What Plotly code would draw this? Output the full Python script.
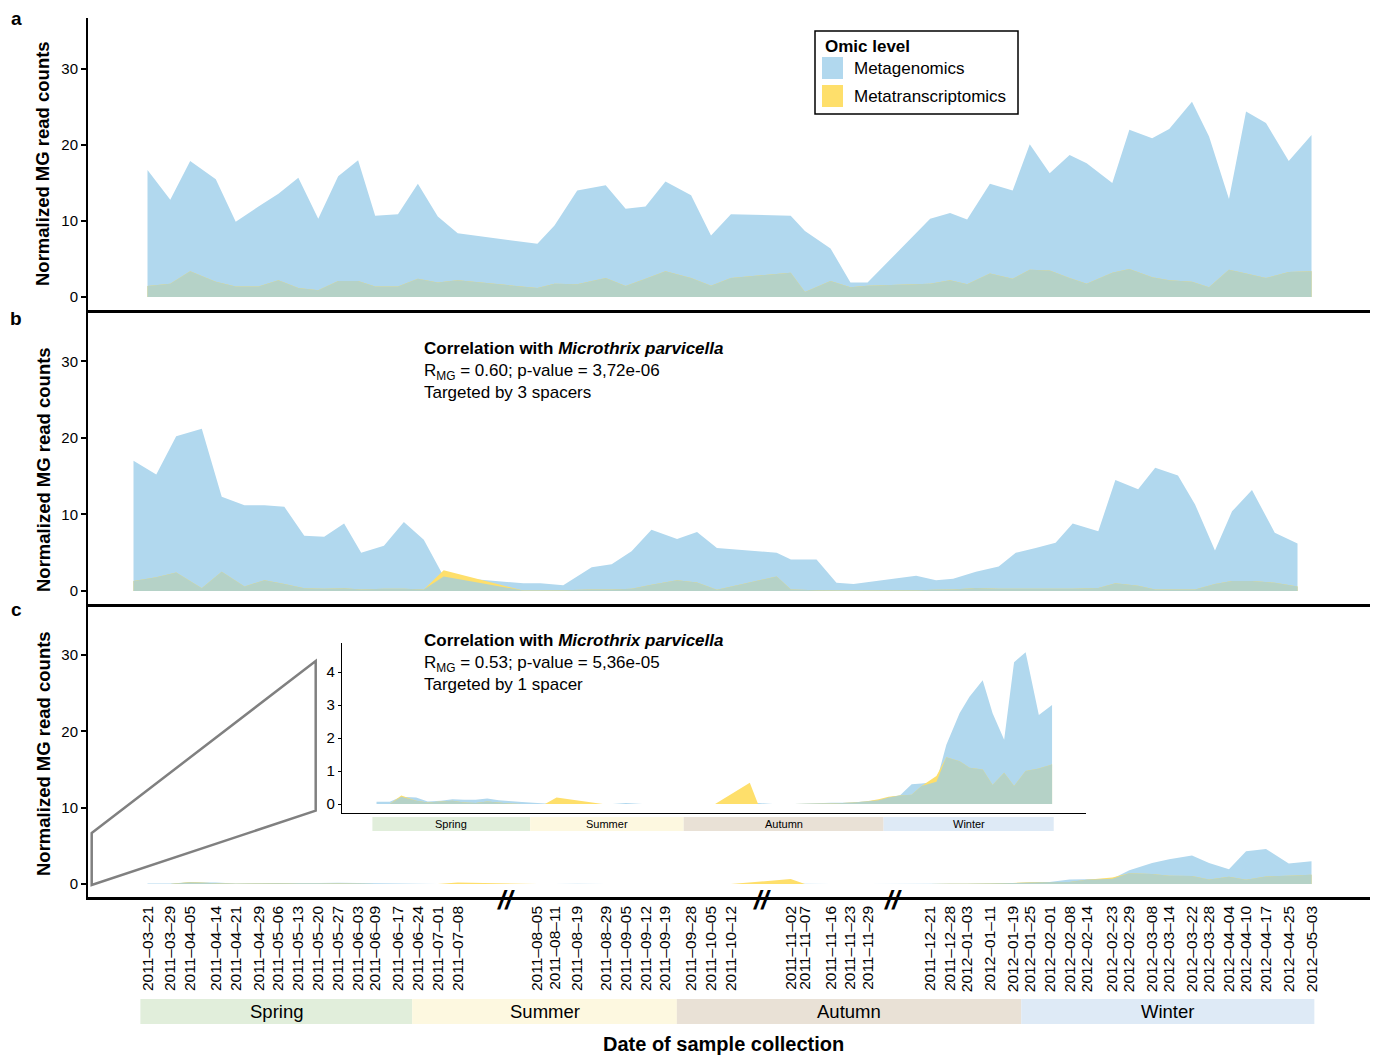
import numpy as np
import pandas as pd
import plotly.graph_objects as go

# ---------------- data ----------------
dates = [
    "2011-03-21", "2011-03-29", "2011-04-05", "2011-04-14", "2011-04-21", "2011-04-29",
    "2011-05-06", "2011-05-13", "2011-05-20", "2011-05-27", "2011-06-03", "2011-06-09",
    "2011-06-17", "2011-06-24", "2011-07-01", "2011-07-08",
    "2011-08-05", "2011-08-11", "2011-08-19", "2011-08-29", "2011-09-05", "2011-09-12",
    "2011-09-19", "2011-09-28", "2011-10-05", "2011-10-12",
    "2011-11-02", "2011-11-07", "2011-11-16", "2011-11-23", "2011-11-29",
    "2011-12-21", "2011-12-28", "2012-01-03", "2012-01-11", "2012-01-19", "2012-01-25",
    "2012-02-01", "2012-02-08", "2012-02-14", "2012-02-23", "2012-02-29", "2012-03-08",
    "2012-03-14", "2012-03-22", "2012-03-28", "2012-04-04", "2012-04-10", "2012-04-17",
    "2012-04-25", "2012-05-03",
]
tick_labels = [d.replace("-", "\u2013") for d in dates]

# panel a
a_mg = [16.7, 12.8, 17.9, 15.5, 9.9, 11.9, 13.6, 15.7, 10.3, 15.9, 18.0, 10.7, 10.9, 14.9, 10.6, 8.4,
        7.0, 9.4, 14.0, 14.7, 11.6, 11.9, 15.2, 13.4, 8.1, 10.9,
        10.7, 8.7, 6.4, 1.9, 1.9,
        10.3, 11.05, 10.2, 14.9, 14.0, 20.1, 16.3, 18.7, 17.6, 15.0, 22.0, 20.9, 22.1, 25.7, 21.1,
        12.9, 24.4, 22.9, 17.9, 21.3]
a_mt = [1.45, 1.75, 3.4, 2.0, 1.4, 1.4, 2.2, 1.2, 0.9, 2.1, 2.1, 1.4, 1.4, 2.4, 1.9, 2.2,
        1.2, 1.75, 1.7, 2.5, 1.45, 2.4, 3.4, 2.5, 1.5, 2.5,
        3.2, 0.66, 2.1, 1.3, 1.5,
        1.75, 2.2, 1.7, 3.1, 2.4, 3.6, 3.5, 2.5, 1.75, 3.2, 3.7, 2.6, 2.2, 2.0, 1.3,
        3.6, 3.1, 2.5, 3.3, 3.4]
# panel b
b_mg = [17.0, 15.2, 20.2, 21.2, 12.3, 11.2, 11.2, 11.0, 7.2, 7.1, 8.8, 5.0, 5.9, 9.0, 6.7, 1.9,
        1.0, 1.0, 0.75, 3.1, 3.5, 5.2, 8.0, 6.8, 7.7, 5.6,
        5.0, 4.1, 4.1, 1.07, 0.9,
        2.0, 1.4, 1.6, 2.5, 3.2, 5.0, 5.6, 6.3, 8.8, 7.8, 14.5, 13.3, 16.1, 15.1, 11.3,
        5.3, 10.4, 13.2, 7.6, 6.2]
b_mt = [1.3, 1.8, 2.4, 0.35, 2.5, 0.6, 1.4, 0.9, 0.35, 0.3, 0.35, 0.2, 0.3, 0.3, 0.2, 2.7,
        0.05, 0.05, 0.1, 0.2, 0.2, 0.3, 0.8, 1.4, 1.1, 0.15,
        1.9, 0.2, 0.1, 0.05, 0.05,
        0.1, 0.15, 0.2, 0.4, 0.3, 0.3, 0.3, 0.3, 0.3, 0.4, 1.0, 0.7, 0.2, 0.2, 0.2,
        0.9, 1.3, 1.3, 1.07, 0.6]
# panel c (also shown in the inset)
c_mg = [0.07, 0.07, 0.22, 0.2, 0.08, 0.1, 0.15, 0.13, 0.13, 0.17, 0.12, 0.09, 0.06, 0.04, 0.02, 0.0,
        0.0, 0.0, 0.03, 0.0, 0.0, 0.0, 0.0, 0.0, 0.0, 0.0,
        0.0, 0.03, 0.0, 0.0, 0.0,
        0.04, 0.04, 0.05, 0.08, 0.12, 0.2, 0.27, 0.6, 0.62, 0.68, 1.8, 2.75, 3.25, 3.75, 2.75,
        1.95, 4.3, 4.6, 2.7, 3.0]
c_mt = [0.0, 0.0, 0.26, 0.1, 0.05, 0.08, 0.1, 0.05, 0.03, 0.08, 0.05, 0.02, 0.0, 0.0, 0.0, 0.2,
        0.0, 0.0, 0.0, 0.0, 0.0, 0.0, 0.0, 0.0, 0.0, 0.0,
        0.65, 0.0, 0.0, 0.0, 0.0,
        0.02, 0.03, 0.05, 0.08, 0.15, 0.22, 0.26, 0.28, 0.55, 0.85, 1.42, 1.3, 1.1, 1.05, 0.58,
        0.95, 0.55, 1.0, 1.08, 1.2]

seasons = ["Spring", "Summer", "Autumn", "Winter"]
season_start = ["2011-03-18 12:00", "2011-06-22", "2011-09-23", "2012-01-22"]
season_end = ["2011-06-22", "2011-09-23", "2012-01-22", "2012-05-04"]
season_colors = ["#e1eedb", "#fdf8e0", "#e9e1d6", "#deeaf6"]

break_dates = ["2011-07-25", "2011-10-23", "2011-12-08"]

panel_b_text = ["<b>Correlation with <i>Microthrix parvicella</i></b>",
                "R<sub>MG</sub> = 0.60; p-value = 3,72e-06",
                "Targeted by 3 spacers"]
panel_c_text = ["<b>Correlation with <i>Microthrix parvicella</i></b>",
                "R<sub>MG</sub> = 0.53; p-value = 5,36e-05",
                "Targeted by 1 spacer"]

# ---------------- style ----------------
W, H = 1378, 1056
FONT = "Liberation Sans"
BLUE = "#b1d8ee"
YELLOW = "#fedf6b"
GREEN = "#b5d2c7"


def px(x):
    return x / W


def py(y):
    return 1 - y / H


px_per_day = 2.846
ref = pd.Timestamp("2011-03-21")
ref_px = 147.5


def date_at(xpix, shift_days=0.0):
    t = ref + pd.Timedelta(days=(xpix - ref_px) / px_per_day + shift_days)
    return t.strftime("%Y-%m-%d %H:%M:%S")


main_range = [date_at(88), date_at(1370)]
b_range = [date_at(88, 14 / px_per_day), date_at(1370, 14 / px_per_day)]

fig = go.Figure()


def add_area(mg, mt, xa, ya):
    mg = np.array(mg, dtype=float)
    mt = np.array(mt, dtype=float)
    ov = np.minimum(mg, mt)
    for vals, col in ((mg, BLUE), (mt, YELLOW), (ov, GREEN)):
        fig.add_trace(go.Scatter(x=dates, y=vals, fill="tozeroy", mode="none",
                                 fillcolor=col, xaxis=xa, yaxis=ya,
                                 showlegend=False, hoverinfo="skip"))


add_area(a_mg, a_mt, "x", "y")
add_area(b_mg, b_mt, "x2", "y2")
add_area(c_mg, c_mt, "x3", "y3")
add_area(c_mg, c_mt, "x4", "y4")

xcommon = dict(type="date", showgrid=False, zeroline=False, showline=True,
               linecolor="black", linewidth=2.5, ticks="", showticklabels=False,
               domain=[px(88), px(1370)])
ycommon = dict(range=[-1.7, 36.7], tickvals=[0, 10, 20, 30], ticks="outside", ticklen=5,
               tickwidth=1.5, tickcolor="black", showline=True, linecolor="black",
               linewidth=2, showgrid=False, zeroline=False,
               tickfont=dict(family=FONT, size=15, color="black"))

fig.update_layout(
    xaxis=dict(xcommon, range=main_range, anchor="y"),
    yaxis=dict(ycommon, domain=[py(310), py(18)], anchor="x"),
    xaxis2=dict(xcommon, range=b_range, anchor="y2"),
    yaxis2=dict(ycommon, domain=[py(604), py(310)], anchor="x2"),
    xaxis3=dict(xcommon, range=main_range, anchor="y3", showticklabels=True,
                tickvals=dates, ticktext=tick_labels, tickangle=-90,
                tickfont=dict(family=FONT, size=15.5, color="black")),
    yaxis3=dict(ycommon, domain=[py(897), py(604)], anchor="x3"),
    xaxis4=dict(type="date", range=main_range, domain=[px(342), px(1086)], anchor="y4",
                showgrid=False, zeroline=False, showline=True, linecolor="black",
                linewidth=1.2, showticklabels=False, ticks=""),
    yaxis4=dict(range=[-0.27, 4.88], domain=[py(813), py(643)], anchor="x4",
                tickvals=[0, 1, 2, 3, 4], ticks="outside", ticklen=3, tickwidth=1,
                tickcolor="black", showline=True, linecolor="black", linewidth=1.2,
                showgrid=False, zeroline=False,
                tickfont=dict(family=FONT, size=15, color="black")),
    width=W, height=H,
    margin=dict(l=0, r=0, t=0, b=0),
    paper_bgcolor="white", plot_bgcolor="rgba(0,0,0,0)",
    font=dict(family=FONT, color="black"),
    showlegend=False,
)

shapes = []
annotations = []


def note(text, x, y, xref="paper", size=17, xanchor="center", yanchor="middle", **kw):
    annotations.append(dict(text=text, xref=xref, yref="paper", x=x, y=y, showarrow=False,
                            xanchor=xanchor, yanchor=yanchor,
                            font=dict(family=FONT, size=size, color="black"), **kw))


# season bars
for name, s, e, col in zip(seasons, season_start, season_end, season_colors):
    mid = (pd.Timestamp(s) + (pd.Timestamp(e) - pd.Timestamp(s)) / 2).strftime("%Y-%m-%d %H:%M:%S")
    shapes.append(dict(type="rect", xref="x3", yref="paper", x0=s, x1=e,
                       y0=py(1024), y1=py(999), fillcolor=col, line=dict(width=0), layer="below"))
    note(name, mid, py(1011.5), xref="x3", size=18.5)
    shapes.append(dict(type="rect", xref="x4", yref="paper", x0=s, x1=e,
                       y0=py(831), y1=py(817), fillcolor=col, line=dict(width=0), layer="below"))
    note(name, mid, py(824), xref="x4", size=11)

# axis break marks
for d in break_dates:
    note("<b><i>//</i></b>", d, py(900), xref="x3", size=26)

# zoom trapezoid
pts = [(91.7, 833), (315.7, 661), (315.7, 810.7), (91.7, 885)]
path = "M " + " L ".join(f"{px(x):.5f},{py(y):.5f}" for x, y in pts) + " Z"
shapes.append(dict(type="path", xref="paper", yref="paper", path=path,
                   line=dict(color="#808080", width=2.5)))

# legend (manual)
shapes.append(dict(type="rect", xref="paper", yref="paper", x0=px(815), x1=px(1018),
                   y0=py(114), y1=py(31), line=dict(color="black", width=1.5),
                   fillcolor="white", layer="above"))
shapes.append(dict(type="rect", xref="paper", yref="paper", x0=px(822), x1=px(843),
                   y0=py(79), y1=py(57), line=dict(width=0), fillcolor=BLUE, layer="above"))
shapes.append(dict(type="rect", xref="paper", yref="paper", x0=px(822), x1=px(843),
                   y0=py(107), y1=py(85), line=dict(width=0), fillcolor=YELLOW, layer="above"))
note("<b>Omic level</b>", px(823), py(46), xanchor="left")
note("Metagenomics", px(852), py(68), xanchor="left")
note("Metatranscriptomics", px(852), py(96), xanchor="left")

# panel texts
for lines, ytop in ((panel_b_text, 337), (panel_c_text, 629)):
    note("<br>".join(lines), px(422), py(ytop), xanchor="left", yanchor="top", align="left")

# panel letters and y titles
for letter, ly, ty in (("a", 18, 164), ("b", 318, 470), ("c", 609, 754)):
    note(f"<b>{letter}</b>", px(16), py(ly), size=19)
    note("<b>Normalized MG read counts</b>", px(43), py(ty), size=18.5, textangle=-90)

note("<b>Date of sample collection</b>", px(724), py(1044), size=20)

fig.update_layout(shapes=shapes, annotations=annotations)
fig.write_html("out.html",
               config={"displayModeBar": False},
               post_script="document.body.style.margin='0px';document.body.style.overflow='hidden';")
